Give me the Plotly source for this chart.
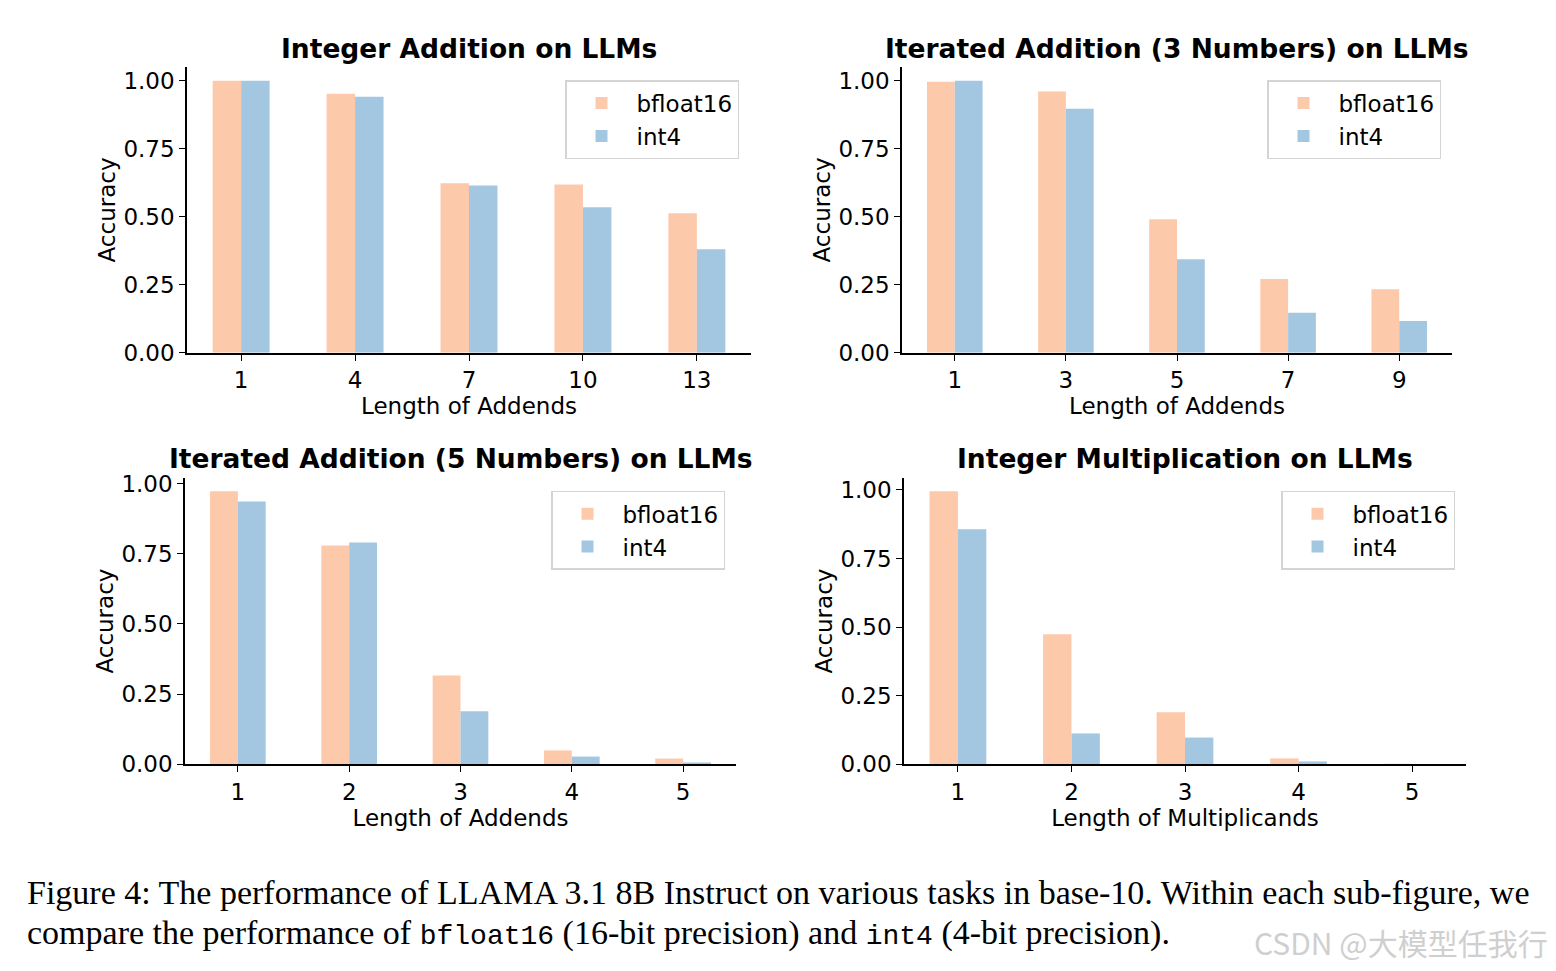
import plotly.graph_objects as go

W, H = 1556, 971
OFF = 8  # page body margin
FW, FH = W - 2 * OFF, H - 2 * OFF
# measured vertical mapping of the photographed page: shown_y = 7 + 0.98 * page_y
VA, VS = 7.0, 0.98

# ---------------- data ----------------
titles = [
    "Integer Addition on LLMs",
    "Iterated Addition (3 Numbers) on LLMs",
    "Iterated Addition (5 Numbers) on LLMs",
    "Integer Multiplication on LLMs",
]
x_titles = ["Length of Addends", "Length of Addends", "Length of Addends", "Length of Multiplicands"]

cats_1 = ["1", "4", "7", "10", "13"]
bf16_1 = [1.00, 0.952, 0.623, 0.619, 0.513]
int4_1 = [1.00, 0.941, 0.615, 0.535, 0.381]

cats_2 = ["1", "3", "5", "7", "9"]
bf16_2 = [0.996, 0.960, 0.491, 0.271, 0.234]
int4_2 = [1.00, 0.897, 0.344, 0.147, 0.117]

cats_3 = ["1", "2", "3", "4", "5"]
bf16_3 = [0.972, 0.779, 0.317, 0.050, 0.021]
int4_3 = [0.936, 0.790, 0.189, 0.028, 0.007]

cats_4 = ["1", "2", "3", "4", "5"]
bf16_4 = [0.995, 0.474, 0.190, 0.022, 0.001]
int4_4 = [0.857, 0.113, 0.098, 0.011, 0.0]

series_names = ["bfloat16", "int4"]
y_ticks = [0.0, 0.25, 0.5, 0.75, 1.0]

# ---------------- style ----------------
C_BF = "#FDC9AB"
C_I4 = "#A4C7E1"
FONT = "DejaVu Sans"
FS = 23

def px_x(v):
    return (v - OFF) / FW

def px_y(v):
    page = (v - VA) / VS
    return 1 - (page - OFF) / FH

# panel boxes in pixels: (left, right, top, bottom)
boxes = [
    (187, 751, 67, 353),
    (902, 1452, 67, 353),
    (185, 736, 478, 765),
    (904, 1466, 478, 765),
]
legend_pos = [(739, 80), (1441, 80), (725, 491), (1455, 491)]

panels = [
    (cats_1, bf16_1, int4_1),
    (cats_2, bf16_2, int4_2),
    (cats_3, bf16_3, int4_3),
    (cats_4, bf16_4, int4_4),
]

fig = go.Figure()
layout = dict(
    width=FW, height=FH,
    margin=dict(l=0, r=0, t=0, b=0),
    paper_bgcolor="white", plot_bgcolor="white",
    font=dict(family=FONT, size=FS, color="black"),
    barmode="group", bargap=0.5, bargroupgap=0.0,
    annotations=[],
)

for i, (cats, bf, i4) in enumerate(panels):
    n = i + 1
    xs = "x" if n == 1 else f"x{n}"
    ys = "y" if n == 1 else f"y{n}"
    lg = "legend" if n == 1 else f"legend{n}"
    for name, vals, col in [(series_names[0], bf, C_BF), (series_names[1], i4, C_I4)]:
        fig.add_trace(go.Bar(
            x=cats, y=vals, name=name, marker=dict(color=col, line=dict(width=0)),
            xaxis=xs, yaxis=ys, legend=lg, showlegend=True,
        ))
    l, r, t, b = boxes[i]
    ymax = max(max(bf), max(i4)) * 1.05
    layout["xaxis" if n == 1 else f"xaxis{n}"] = dict(
        domain=[px_x(l), px_x(r)], anchor=ys, type="category",
        range=[-0.475, len(cats) - 1 + 0.475],
        showline=True, linecolor="black", linewidth=1.5, mirror=False,
        ticks="outside", ticklen=6, tickwidth=1.3, tickcolor="black",
        showgrid=False, zeroline=False,
        tickfont=dict(family=FONT, size=FS),
        title=dict(text=x_titles[i], font=dict(family=FONT, size=FS), standoff=4),
    )
    layout["yaxis" if n == 1 else f"yaxis{n}"] = dict(
        domain=[px_y(b), px_y(t)], anchor=xs,
        range=[0, ymax], tickvals=y_ticks, tickformat=".2f",
        showline=True, linecolor="black", linewidth=1.5, mirror=False,
        ticks="outside", ticklen=6, tickwidth=1.3, tickcolor="black",
        showgrid=False, zeroline=False,
        tickfont=dict(family=FONT, size=FS),
        title=dict(text="Accuracy", font=dict(family=FONT, size=FS), standoff=1),
    )
    lx, ly = legend_pos[i]
    layout[lg] = dict(
        x=px_x(lx), y=px_y(ly), xanchor="right", yanchor="top",
        xref="paper", yref="paper",
        bgcolor="white", bordercolor="#d4d4d4", borderwidth=1.5,
        font=dict(family=FONT, size=FS), traceorder="normal",
        itemwidth=60, tracegroupgap=2,
    )
    layout["annotations"].append(dict(
        text="<b>" + titles[i] + "</b>", x=px_x((l + r) / 2), y=px_y(t - 19),
        xref="paper", yref="paper", xanchor="center", yanchor="middle",
        showarrow=False, font=dict(family=FONT, size=26.5, color="black"),
    ))

MONO = "font-family:'Liberation Mono';font-size:28px"
cap1 = "Figure 4: The performance of LLAMA 3.1 8B Instruct on various tasks in base-10. Within each sub-figure, we"
cap2 = ("compare the performance of <span style=\"" + MONO + "\">bfloat16</span> (16-bit precision) and "
        "<span style=\"" + MONO + "\">int4</span> (4-bit precision).")
for txt, yy in [(cap1, 893), (cap2, 934)]:
    layout["annotations"].append(dict(
        text=txt, x=px_x(25), y=px_y(yy), xref="paper", yref="paper",
        xanchor="left", yanchor="middle", showarrow=False,
        font=dict(family="Liberation Serif", size=34, color="black"),
    ))
layout["annotations"].append(dict(
    text="CSDN @大模型任我行", x=px_x(1550), y=px_y(943), xref="paper", yref="paper",
    xanchor="right", yanchor="middle", showarrow=False,
    font=dict(family="Noto Sans CJK SC", size=30, color="#cfcfcf"),
))

fig.update_layout(**layout)
fig.write_html("out.html", config={"displayModeBar": False})
